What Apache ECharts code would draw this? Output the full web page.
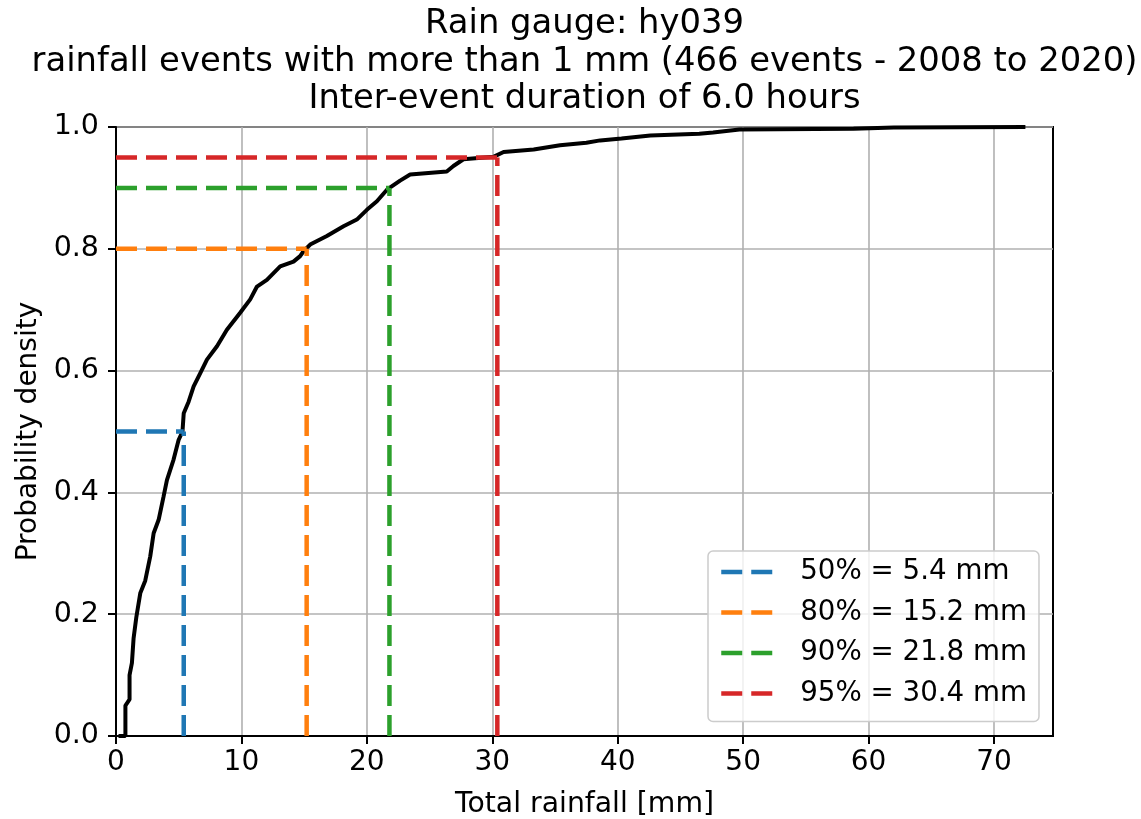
<!DOCTYPE html>
<html>
<head>
<meta charset="utf-8">
<script src="https://cdn.jsdelivr.net/npm/echarts@6/dist/echarts.min.js"></script>
<style>
  html, body { margin: 0; padding: 0; background: #fff; }
  #chart { width: 1141px; height: 819px; }
</style>
</head>
<body>
<div id="chart"></div>
<script>
	var cdfPoints = [
		[0.2, 0], [0.75, 0], [0.75, 0.05], [1.08, 0.06], [1.08, 0.10], [1.27, 0.12],
		[1.40, 0.16], [1.62, 0.195], [1.94, 0.235], [2.33, 0.255], [2.73, 0.295],
		[3.0, 0.333], [3.4, 0.355], [3.79, 0.393], [4.06, 0.42], [4.59, 0.454],
		[4.99, 0.486], [5.3, 0.50], [5.4, 0.53], [5.79, 0.549], [6.19, 0.574],
		[6.72, 0.596], [7.25, 0.618], [8.05, 0.64], [8.84, 0.667], [9.9, 0.695],
		[10.7, 0.717], [11.24, 0.738], [12.03, 0.749], [13.09, 0.771], [14.15, 0.779],
		[14.68, 0.788], [14.95, 0.796], [15.48, 0.807], [16.81, 0.821], [18.14, 0.837],
		[19.2, 0.848], [20.0, 0.864], [20.8, 0.878], [21.6, 0.897], [22.65, 0.912],
		[23.45, 0.922], [26.37, 0.927], [26.9, 0.936], [27.7, 0.947], [30.09, 0.951],
		[30.9, 0.959], [33.3, 0.963], [35.4, 0.970], [37.5, 0.974], [38.6, 0.978],
		[40.3, 0.981], [42.6, 0.986], [46.5, 0.989], [47.6, 0.991], [49.7, 0.996],
		[58.8, 0.997], [62, 0.999], [72.5, 1.0]
	];
	var quantileProbs = [0.5, 0.8, 0.9, 0.95];
	var quantileValues = [5.4, 15.2, 21.8, 30.4];
	var quantileNames = ['50% = 5.4 mm', '80% = 15.2 mm', '90% = 21.8 mm', '95% = 30.4 mm'];
	var quantileColors = ['#1f77b4', '#ff7f0e', '#2ca02c', '#d62728'];
	var xTicks = [0, 10, 20, 30, 40, 50, 60, 70];
	var titleLines = [
		'Rain gauge: hy039',
		'rainfall events with more than 1 mm (466 events - 2008 to 2020)',
		'Inter-event duration of 6.0 hours'
	];

	var font = 'DejaVu Sans';
	var dash = [21, 9];

	var series = [{
		name: 'cdf',
		type: 'line',
		data: cdfPoints,
		showSymbol: false,
		symbol: 'none',
		lineStyle: { color: '#000', width: 4 },
		z: 2
	}];
	for (var i = 0; i < quantileValues.length; i++) {
		// horizontal part from the y axis, then a separate vertical part from the x axis
		series.push({
			name: quantileNames[i],
			type: 'line',
			data: [[0, quantileProbs[i]], [quantileValues[i], quantileProbs[i]], ['-', '-'],
				[quantileValues[i], 0], [quantileValues[i], quantileProbs[i]]],
			connectNulls: false,
			showSymbol: false,
			symbol: 'none',
			color: quantileColors[i],
			lineStyle: { color: quantileColors[i], width: 4.5, type: dash },
			z: 3
		});
	}

	var titleY = [24, 62, 99];
	var graphics = [];
	for (var k = 0; k < titleLines.length; k++) {
		graphics.push({
			type: 'text',
			x: 584.5,
			y: titleY[k],
			style: {
				text: titleLines[k],
				fill: '#000',
				font: '33.8px "' + font + '"',
				align: 'center',
				verticalAlign: 'middle'
			}
		});
	}

	var option = {
		animation: false,
		backgroundColor: '#fff',
		graphic: graphics,
		grid: {
			left: 116, right: 88, top: 127, bottom: 83,
			outerBoundsMode: 'none',
			show: true, borderColor: '#000', borderWidth: 2,
			backgroundColor: 'transparent'
		},
		legend: {
			data: quantileNames,
			orient: 'vertical',
			left: 708,
			top: 551,
			itemWidth: 52,
			itemHeight: 14,
			itemGap: 10.5,
			padding: [6, 12, 13, 11],
			backgroundColor: 'rgba(255,255,255,0.8)',
			borderColor: '#cccccc',
			borderWidth: 1.5,
			borderRadius: 5,
			z: 10,
			itemStyle: { opacity: 0 },
			lineStyle: { width: 4.5, type: dash },
			textStyle: {
				fontFamily: font,
				fontSize: 27.7,
				color: '#000',
				lineHeight: 30,
				padding: [0, 0, 0, 22]
			}
		},
		xAxis: {
			type: 'value',
			min: 0,
			max: 74.7,
			interval: 10,
			name: 'Total rainfall [mm]',
			nameLocation: 'middle',
			nameGap: 55,
			nameTextStyle: { fontFamily: font, fontSize: 28.3, color: '#000' },
			axisLine: { show: true, onZero: false, lineStyle: { color: '#000', width: 2 } },
			axisTick: { show: true, inside: false, length: 8, customValues: xTicks,
				lineStyle: { color: '#000', width: 2 } },
			axisLabel: {
				fontFamily: font, fontSize: 28, color: '#000', margin: 13,
				customValues: xTicks
			},
			splitLine: { show: true, lineStyle: { color: '#b0b0b0', width: 1.6 } }
		},
		yAxis: {
			type: 'value',
			min: 0,
			max: 1,
			interval: 0.2,
			name: 'Probability density',
			nameLocation: 'middle',
			nameGap: 72,
			nameTextStyle: { fontFamily: font, fontSize: 28, color: '#000' },
			axisLine: { show: true, lineStyle: { color: '#000', width: 2 } },
			axisTick: { show: true, inside: false, length: 8, lineStyle: { color: '#000', width: 2 } },
			axisLabel: {
				fontFamily: font, fontSize: 28.5, color: '#000', margin: 17,
				formatter: function (v) { return v.toFixed(1); }
			},
			splitLine: { show: true, lineStyle: { color: '#b0b0b0', width: 1.6 } }
		},
		series: series
	};

	echarts.init(document.getElementById('chart')).setOption(option);
</script>
</body>
</html>
